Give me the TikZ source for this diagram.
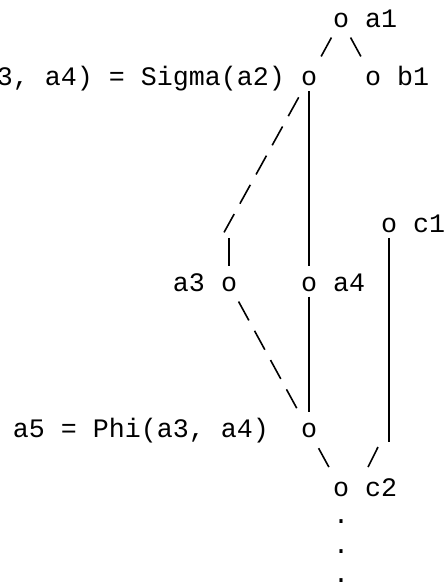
\documentclass[tikz,border=0pt]{standalone}
\usepackage{fontspec}
\setmonofont{Liberation Mono}
\usetikzlibrary{calc}

\begin{document}
\begin{tikzpicture}[x=12pt, y=-22pt, line width=1.2pt,
  mono/.style={font=\ttfamily\fontsize{20pt}{24pt}\selectfont,
    inner sep=0pt, outer sep=0pt},
  pipe/.style={shorten <=9.4pt, shorten >=13.7pt},
  tick/.style={shorten <=15pt, shorten >=19pt},
  slashes/.style={dash pattern=on 16.1pt off 8.9pt}]
  \useasboundingbox[fill=white] (-0.3125,-0.6818) rectangle (27.4375,19.2614);

  % vertices, one char = 1 unit across, one line = 1 unit down
  \node[mono] (a1) at (21,0) {o};
  \node[mono] (a2) at (19,2) {o};
  \node[mono] (b1) at (23,2) {o};
  \node[mono] (c1) at (24,7) {o};
  \node[mono] (a3) at (14,9) {o};
  \node[mono] (a4) at (19,9) {o};
  \node[mono] (a5) at (19,14) {o};
  \node[mono] (c2) at (21,16) {o};

  % labels
  \node[mono, anchor=base west, xshift=12pt] (a1-lbl) at (a1.base east) {a1};
  \node[mono, anchor=base east, xshift=-12pt] (a2-lbl) at (a2.base west) {3, a4) = Sigma(a2)};
  \node[mono, anchor=base west, xshift=12pt] (b1-lbl) at (b1.base east) {b1};
  \node[mono, anchor=base west, xshift=12pt] (c1-lbl) at (c1.base east) {c1};
  \node[mono, anchor=base east, xshift=-12pt] (a3-lbl) at (a3.base west) {a3};
  \node[mono, anchor=base west, xshift=12pt] (a4-lbl) at (a4.base east) {a4};
  \node[mono, anchor=base east, xshift=-24pt] (a5-lbl) at (a5.base west) {a5 = Phi(a3, a4)};
  \node[mono, anchor=base west, xshift=12pt] (c2-lbl) at (c2.base east) {c2};
  \node[mono, anchor=base, yshift=1.5pt] (dot1) at ($(c2.base)+(0,1)$) {.};
  \node[mono, anchor=base, yshift=1.5pt] (dot2) at ($(c2.base)+(0,2)$) {.};
  \node[mono, anchor=base, yshift=1.5pt] (dot3) at ($(c2.base)+(0,3)$) {.};

  % bends of the drawn edges
  \coordinate (a3-knee) at (13.69,7.24);
  \coordinate (a3-top) at (14,7.43);
  \coordinate (c1-foot) at (24,14.39);
  \coordinate (c2-hook) at (23.31,14.56);

  \draw[tick] (a1.center) -- (a2.center);
  \draw[tick] (a1.center) -- (b1.center);
  \draw[pipe] (a2.center) -- (a4.center);
  \draw[slashes, shorten <=16pt] (a2.center) -- (a3-knee);
  \draw[pipe, shorten <=0pt] (a3-top) -- (a3.center);
  \draw[pipe] (a4.center) -- (a5.center);
  \draw[slashes, shorten <=15pt, shorten >=18.75pt] (a3.center) -- (a5.center);
  \draw[tick] (a5.center) -- (c2.center);
  \draw[pipe, shorten >=0pt] (c1.center) -- (c1-foot);
  \draw (c2-hook) -- ++(-0.62,0.68);
\end{tikzpicture}
\end{document}
